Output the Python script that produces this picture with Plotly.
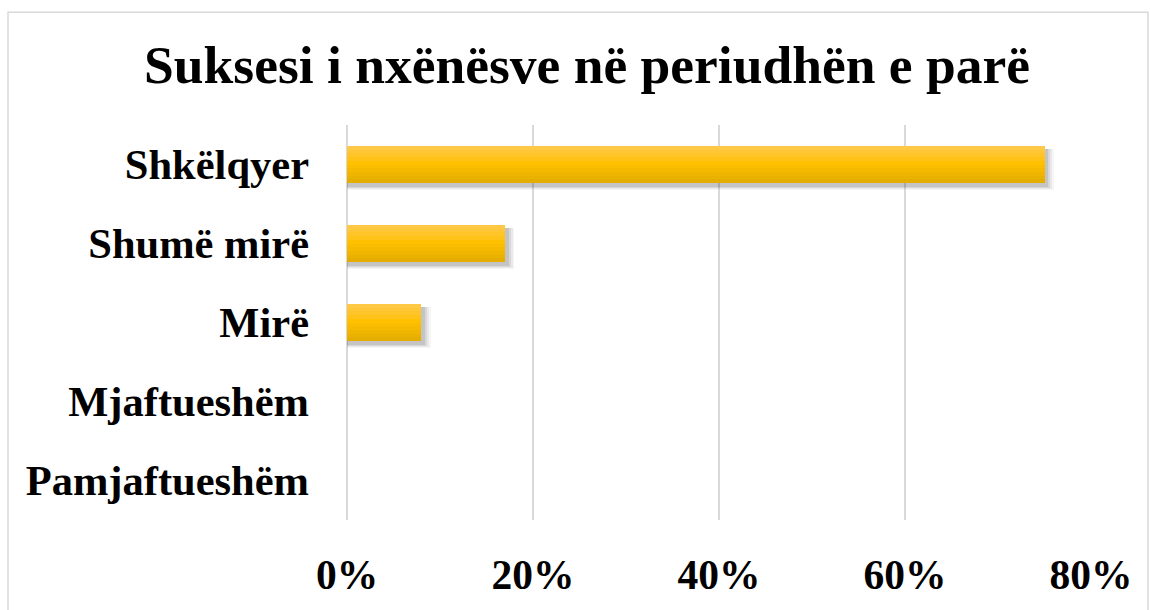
import plotly.graph_objects as go

categories = ["Shkëlqyer", "Shumë mirë", "Mirë", "Mjaftueshëm", "Pamjaftueshëm"]
values = [0.75, 0.17, 0.08, 0.0, 0.0]
tick_vals = [0, 0.2, 0.4, 0.6, 0.8]
tick_text = ["0%", "20%", "40%", "60%", "80%"]
title_text = "Suksesi i nxënësve në periudhën e parë"

W, H = 1150, 610
L, R, T, B = 347, 59, 125, 82
pw, ph = W - L - R, H - T - B

bar_w = 0.47
font = "Liberation Serif, Times New Roman, serif"

fig = go.Figure()

# soft blurred shadow layers (below/right of each bar)
shadow_layers = [(0.10, 0.035), (0.075, 0.05), (0.05, 0.07), (0.025, 0.09)]
for extra, alpha in shadow_layers:
    fig.add_trace(go.Bar(
        y=categories, x=[v + (0.002 + extra * 0.08) if v > 0 else 0 for v in values],
        orientation="h", width=bar_w + extra * 0.5, offset=-bar_w / 2 + 0.045 - extra * 0.1,
        marker=dict(color=f"rgba(0,0,0,{alpha})", line=dict(width=0)),
        hoverinfo="skip", showlegend=False,
    ))

# vertical gradient bands
band_colors = ["#FFC845", "#FFC638", "#FFC428", "#FFC218", "#FFC000", "#FBBD00",
               "#F5B900", "#EFB500", "#E9B100", "#E4AD00"]
n = len(band_colors)
bw = bar_w / n
for i, c in enumerate(band_colors):
    fig.add_trace(go.Bar(
        y=categories, x=values, orientation="h",
        width=bw * 1.02, offset=-bar_w / 2 + i * bw,
        marker=dict(color=c, line=dict(width=0)),
        hoverinfo="skip", showlegend=False,
    ))

fig.update_layout(
    width=W, height=H,
    margin=dict(l=L, r=R, t=T, b=B),
    paper_bgcolor="white", plot_bgcolor="white",
    barmode="overlay", bargap=0,
    title=dict(text=title_text, x=587 / W, xanchor="center",
               y=1 - 64 / H, yanchor="middle", yref="container",
               font=dict(family=font, size=53.5, color="black", weight="bold")),
    xaxis=dict(range=[0, 0.8], tickvals=tick_vals, ticktext=tick_text,
               showgrid=True, gridcolor="#D9D9D9", gridwidth=1.5,
               zeroline=True, zerolinecolor="#D9D9D9", zerolinewidth=2,
               showline=False, ticks="",
               ticklabelstandoff=26,
               tickfont=dict(family=font, size=41.5, color="black", weight="bold")),
    yaxis=dict(autorange="reversed", showgrid=False, zeroline=False,
               showline=False, ticks="", ticklabelstandoff=37,
               tickfont=dict(family=font, size=42.5, color="black", weight="bold")),
    shapes=[dict(type="rect", xref="paper", yref="paper",
                 x0=(8 - L) / pw, x1=(1148 - L) / pw,
                 y0=(H - B - 640) / ph, y1=(H - B - 10) / ph,
                 line=dict(color="#D9D9D9", width=1.5), layer="below")],
)

fig.write_html("out.html", config={"displayModeBar": False},
               post_script="document.body.style.margin='0';document.body.style.overflow='hidden';")
